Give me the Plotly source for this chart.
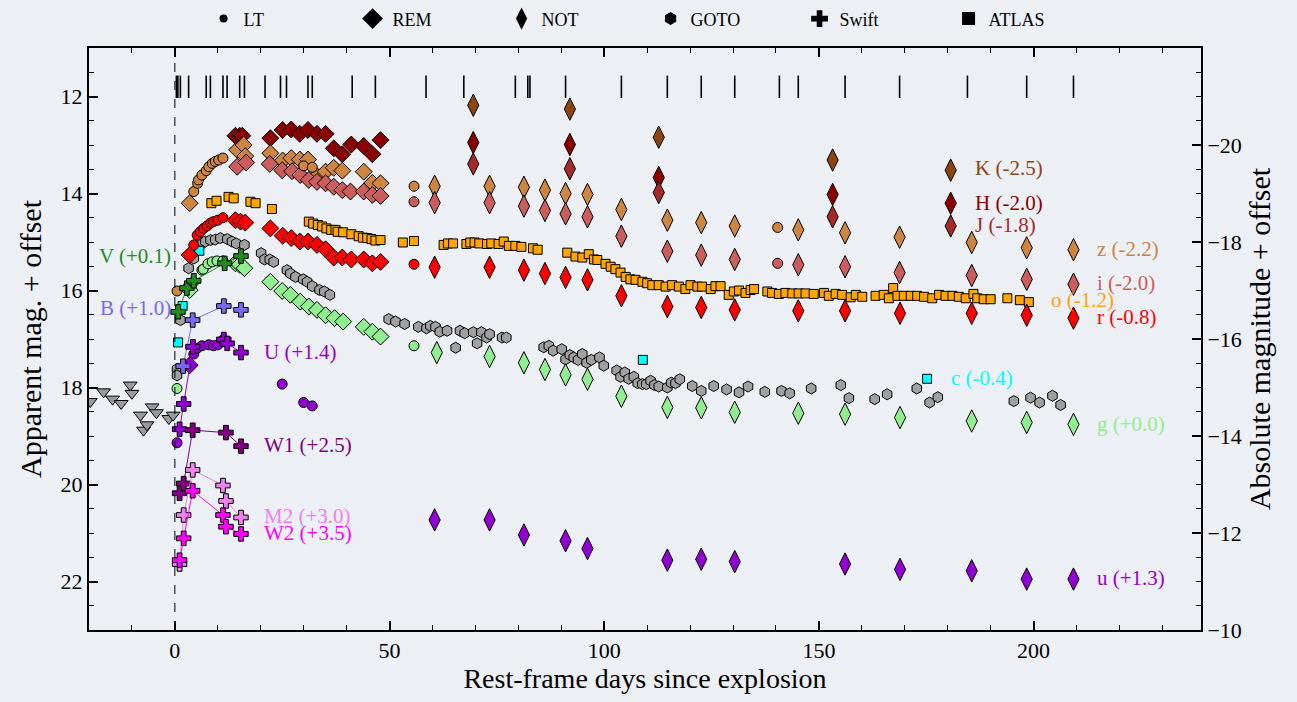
import plotly.graph_objects as go

# ---------------- data ----------------
spec_days = [0.35, 0.7, 1.28, 3.2, 7.3, 8.27, 11.2, 12.16, 15.1, 16.2, 21.0, 24.6, 26.0, 31.0, 32.0,
             41.3, 46.7, 58.5, 67.3, 79.3, 82.2, 82.7, 91.0, 104.0, 114.7, 122.6, 130.4, 140.8,
             145.2, 156.1, 168.8, 184.6, 198.4, 209.3]
spec_level = 11.8

# LT (circles)
lt_z_d = [0.5, 4.4, 5.3, 5.5, 6.3, 7.3, 7.9, 8.7, 9.4, 10.2, 11.2, 30.0, 32.0, 55.7, 140.4]
lt_z_m = [16.01, 13.96, 13.79, 13.72, 13.62, 13.53, 13.45, 13.38, 13.34, 13.31, 13.27, 13.43, 13.46, 13.85, 14.70]
lt_i_d = [55.7, 140.4]
lt_i_m = [14.17, 15.44]
lt_r_d = [4.4, 5.2, 5.9, 6.7, 7.5, 8.3, 9.0, 10.0, 11.2, 55.7]
lt_r_m = [15.06, 14.86, 14.79, 14.72, 14.67, 14.61, 14.58, 14.55, 14.50, 15.46]
lt_g_d = [0.5, 4.4, 6.3, 6.6, 7.7, 8.7, 9.8, 11.2, 55.7]
lt_g_m = [18.02, 15.82, 15.58, 15.56, 15.45, 15.41, 15.39, 15.39, 17.14]
lt_u_d = [0.5, 4.4, 5.2, 6.3, 7.9, 9.0, 10.0, 11.2, 25.0, 30.0, 32.0]
lt_u_m = [19.14, 17.31, 17.19, 17.14, 17.12, 17.14, 17.12, 17.02, 17.93, 18.31, 18.38]

# REM (diamonds)
rem_H_d = [14.1, 15.1, 15.7, 22.25, 25.1, 27.1, 29.1, 31.0, 33.1, 35.1, 37.0, 39.0, 41.1, 44.0, 46.0, 47.9]
rem_H_m = [12.81, 12.81, 12.81, 12.86, 12.69, 12.68, 12.77, 12.69, 12.77, 12.77, 13.07, 13.19, 12.99, 13.02, 13.19, 12.90]
rem_z_d = [3.45, 14.5, 16.0, 16.4, 22.25, 25.1, 27.1, 29.1, 31.0, 33.1, 35.1, 37.0, 39.0, 44.0, 46.0, 47.9]
rem_z_m = [14.20, 13.10, 13.00, 13.23, 13.17, 13.32, 13.27, 13.30, 13.30, 13.64, 13.55, 13.47, 13.53, 13.55, 13.78, 13.79]
rem_i_d = [14.5, 16.6, 22.1, 25.0, 27.3, 29.2, 31.2, 33.1, 35.1, 37.0, 39.0, 40.9, 44.0, 46.0, 47.9]
rem_i_m = [13.45, 13.36, 13.39, 13.52, 13.54, 13.62, 13.72, 13.76, 13.79, 13.86, 13.93, 13.96, 13.96, 14.03, 14.05]
rem_r_d = [3.45, 14.1, 15.3, 16.4, 22.25, 25.1, 27.1, 29.1, 31.0, 33.1, 35.1, 37.0, 39.0, 41.1, 44.0, 46.0, 47.9]
rem_r_m = [15.27, 14.55, 14.58, 14.60, 14.72, 14.87, 14.92, 14.99, 14.99, 15.06, 15.15, 15.32, 15.32, 15.36, 15.36, 15.44, 15.41]
rem_g_d = [3.45, 14.1, 15.1, 16.2, 22.25, 25.0, 26.9, 29.2, 31.2, 33.1, 35.1, 37.2, 39.2, 44.0, 46.0, 47.9]
rem_g_m = [15.99, 15.44, 15.47, 15.54, 15.82, 16.01, 16.09, 16.23, 16.33, 16.40, 16.51, 16.57, 16.64, 16.75, 16.85, 16.95]
rem_u_d = [3.45]
rem_u_m = [17.54]

# NOT (thin diamonds)
not_K_d = [69.5, 92.0, 112.7, 153.2, 180.7]
not_K_m = [12.18, 12.26, 12.84, 13.31, 13.52]
not_H_d = [69.5, 92.0, 112.7, 153.2, 180.7]
not_H_m = [12.95, 12.99, 13.67, 14.02, 14.20]
not_J_d = [69.5, 92.0, 112.7, 153.2, 180.7]
not_J_m = [13.39, 13.49, 13.98, 14.48, 14.67]
not_z_d = [60.5, 73.3, 81.3, 86.2, 91.0, 96.1, 104.0, 114.7, 122.6, 130.4, 145.2, 156.1, 168.8, 185.6, 198.4, 209.3]
not_z_m = [13.85, 13.85, 13.87, 13.93, 14.00, 14.02, 14.33, 14.55, 14.60, 14.67, 14.75, 14.81, 14.90, 15.01, 15.12, 15.16]
not_i_d = [60.5, 73.3, 81.3, 86.2, 91.0, 96.1, 104.0, 114.7, 122.6, 130.4, 145.2, 156.1, 168.8, 185.6, 198.4, 209.3]
not_i_m = [14.19, 14.19, 14.26, 14.35, 14.42, 14.48, 14.88, 15.19, 15.27, 15.36, 15.47, 15.51, 15.63, 15.69, 15.77, 15.87]
not_r_d = [60.5, 73.3, 81.3, 86.2, 91.0, 96.1, 104.0, 114.7, 122.6, 130.4, 145.2, 156.1, 168.9, 185.6, 198.4, 209.3]
not_r_m = [15.52, 15.52, 15.58, 15.65, 15.73, 15.78, 16.11, 16.33, 16.35, 16.40, 16.42, 16.42, 16.47, 16.47, 16.51, 16.57]
not_g_d = [61.0, 73.3, 81.3, 86.2, 91.0, 96.1, 104.0, 114.7, 122.6, 130.4, 145.2, 156.1, 168.9, 185.6, 198.4, 209.3]
not_g_m = [17.28, 17.36, 17.49, 17.63, 17.74, 17.83, 18.18, 18.41, 18.42, 18.51, 18.53, 18.55, 18.62, 18.69, 18.72, 18.76]
not_u_d = [60.5, 73.3, 81.3, 91.0, 96.1, 114.7, 122.6, 130.4, 156.1, 168.9, 185.6, 198.4, 209.3]
not_u_m = [20.73, 20.73, 21.04, 21.16, 21.32, 21.56, 21.54, 21.59, 21.64, 21.75, 21.78, 21.95, 21.95]

# GOTO (hexagons)
goto_d = [0.5, 0.5, 1.3, 3.2, 3.2, 4.4, 5.9, 7.1, 8.3, 9.4, 10.6, 12.2, 13.3, 14.3, 16.2,
          20.1, 20.9, 22.1, 23.0, 26.1, 26.9, 28.1, 29.9, 30.8, 32.0, 33.7, 34.8, 36.1,
          49.8, 51.4, 53.5, 56.7, 58.6, 59.5, 60.7, 61.7, 63.4, 65.4, 66.4, 67.5, 69.5, 70.4,
          71.4, 72.6, 73.3, 76.2, 77.2, 85.9, 87.1, 88.1, 90.1, 91.0, 92.0, 92.9, 93.9, 94.9,
          95.9, 97.0, 98.9, 99.9, 102.9, 103.8, 104.8, 105.7, 106.9, 107.8, 108.9, 109.8,
          110.8, 111.7, 112.7, 114.7, 115.6, 116.6, 117.6, 120.5, 122.6, 125.5, 128.5, 131.4,
          133.5, 137.4, 141.3, 143.2, 148.2, 155.1, 157.0, 163.0, 165.9, 172.8, 175.8, 177.7,
          195.4, 199.3, 201.4, 204.4, 206.3]
goto_m = [17.62, 17.75, 16.61, 15.54, 15.92, 15.34, 15.06, 14.99, 14.96, 14.95, 14.92, 14.94, 14.99, 15.03, 15.06,
          15.23, 15.36, 15.36, 15.41, 15.58, 15.65, 15.72, 15.77, 15.82, 15.91, 15.99, 16.02, 16.09,
          16.59, 16.64, 16.69, 16.75, 16.78, 16.73, 16.75, 16.85, 16.83, 17.18, 16.83, 16.88, 16.86, 17.09,
          16.86, 16.97, 16.90, 16.97, 16.97, 17.17, 17.14, 17.24, 17.21, 17.42, 17.33, 17.38, 17.43, 17.31,
          17.49, 17.43, 17.38, 17.55, 17.65, 17.78, 17.69, 17.82, 17.78, 17.91, 17.93, 17.93,
          17.86, 17.95, 17.98, 18.00, 17.90, 17.91, 17.83, 17.97, 18.07, 17.97, 18.04, 18.10,
          17.98, 18.09, 18.07, 18.12, 18.02, 17.95, 18.22, 18.24, 18.14, 18.02, 18.31, 18.20,
          18.28, 18.21, 18.31, 18.17, 18.36]

# Swift (crosses, joined)
sw_V_d = [0.75, 2.8, 4.4, 11.6, 15.4]
sw_V_m = [16.44, 15.95, 15.80, 15.44, 15.29]
sw_B_d = [1.9, 4.15, 11.4, 15.4]
sw_B_m = [17.56, 16.61, 16.32, 16.40]
sw_U_d = [1.1, 2.05, 4.2, 11.4, 12.2, 15.4]
sw_U_m = [18.86, 18.34, 17.16, 17.01, 17.09, 17.28]
sw_W1_d = [1.1, 2.05, 4.15, 11.9, 15.4]
sw_W1_m = [20.18, 19.98, 18.88, 18.93, 19.21]
sw_M2_d = [1.1, 2.05, 4.15, 11.2, 11.9, 15.4]
sw_M2_m = [21.64, 20.63, 19.70, 20.02, 20.34, 20.68]
sw_W2_d = [1.1, 2.05, 4.15, 11.2, 11.9, 15.4]
sw_W2_m = [21.56, 21.11, 20.13, 20.63, 20.87, 21.02]

# ATLAS (squares)
atlas_o_d = [8.5, 9.7, 12.5, 13.7, 17.6, 18.8, 22.6,
             31.2, 32.2, 33.3, 34.3, 35.3, 36.4, 37.4, 37.9, 39.2, 41.1, 42.8, 43.8, 44.8, 45.8, 46.7, 47.9,
             53.1, 55.7, 62.6, 63.6, 64.8, 67.9, 68.8, 69.8, 70.9, 72.7, 73.7, 75.4, 76.6, 77.8, 79.3, 80.7,
             83.4, 84.5, 91.4, 93.3, 94.9, 96.4, 97.6, 98.4, 100.3, 101.5, 102.6, 103.8, 105.0, 106.1,
             107.3, 108.9, 110.0, 111.2, 112.7, 114.3, 115.8, 117.4, 118.9, 120.1, 121.7, 122.8, 124.8,
             125.9, 127.1, 129.0, 130.2, 131.4, 132.9, 134.1, 134.9, 138.0, 139.1, 140.7, 142.2, 143.8,
             145.3, 146.9, 148.8, 151.2, 152.3, 153.9, 155.4, 157.4, 158.6, 160.1, 163.2, 165.1, 166.3,
             167.3, 168.3, 169.8, 171.4, 172.9, 174.5, 176.4, 178.0, 179.5, 181.1, 182.6, 184.2, 186.0,
             186.9, 188.4, 190.0, 193.9, 196.8, 198.9]
atlas_o_m = [14.20, 14.15, 14.07, 14.10, 14.17, 14.20, 14.32,
             14.58, 14.62, 14.65, 14.68, 14.72, 14.75, 14.75, 14.79, 14.80, 14.84, 14.88, 14.91, 14.92, 14.94, 14.97, 14.96,
             15.01, 14.98, 15.06, 15.03, 15.03, 15.04, 15.01, 15.01, 15.03, 15.04, 15.03, 15.04, 14.99, 15.08, 15.08, 15.10,
             15.13, 15.16, 15.22, 15.30, 15.32, 15.25, 15.36, 15.37, 15.45, 15.51, 15.56, 15.63, 15.72, 15.77,
             15.78, 15.82, 15.85, 15.89, 15.89, 15.92, 15.89, 15.92, 15.97, 15.89, 15.92, 15.92, 15.97,
             15.91, 15.91, 16.09, 16.02, 16.00, 16.05, 15.99, 15.97, 16.02, 16.05, 16.07, 16.05, 16.06,
             16.06, 16.06, 16.07, 16.05, 16.11, 16.07, 16.09, 16.14, 16.09, 16.13, 16.11, 16.09, 16.16,
             15.95, 16.11, 16.11, 16.11, 16.11, 16.13, 16.16, 16.09, 16.11, 16.11, 16.13, 16.16, 16.07,
             16.16, 16.18, 16.18, 16.16, 16.20, 16.24]
atlas_c_d = [0.75, 1.8, 5.7, 109.0, 175.2]
atlas_c_m = [17.07, 16.32, 15.18, 17.43, 17.82]

# upper limits (grey triangles)
lim_d = [-19.7, -16.6, -14.5, -12.5, -10.4, -10.0, -8.0, -7.3, -6.5, -5.3, -4.3, -1.4, -0.4]
lim_m = [18.29, 18.09, 18.24, 18.33, 17.95, 18.12, 18.57, 18.88, 18.77, 18.40, 18.52, 18.64, 18.57]

# band labels: text, day, mag
label_text = ["V (+0.1)", "B (+1.0)", "U (+1.4)", "W1 (+2.5)", "M2 (+3.0)", "W2 (+3.5)",
              "K (-2.5)", "H (-2.0)", "J (-1.8)", "z (-2.2)", "i (-2.0)", "o (-1.2)",
              "r (-0.8)", "c (-0.4)", "g (+0.0)", "u (+1.3)"]
label_day = [-18.1, -17.8, 20.4, 20.4, 20.4, 20.4, 185.8, 185.8, 185.8, 214.2, 214.2, 203.5,
             214.2, 180.2, 214.2, 214.2]
label_mag = [15.29, 16.36, 17.27, 19.19, 20.65, 21.0, 13.47, 14.2, 14.65, 15.14, 15.85, 16.2,
             16.55, 17.80, 18.75, 21.93]

C = dict(K="#8b4513", H="#8b0000", J="#a52a2a", z="#cd853f", i="#cd5c5c", o="#ffa500",
         r="#ff0000", c="#00ffff", g="#90ee90", u="#9400d3", V="#228b22", B="#7b68ee",
         U="#9400d3", W1="#800080", M2="#ee82ee", W2="#ff00ff", L="#a0a0a0")
label_color = [C["V"], C["B"], C["U"], C["W1"], C["M2"], C["W2"], C["K"], C["H"], C["J"],
               C["z"], C["i"], C["o"], C["r"], C["c"], C["g"], C["u"]]

DIST_MOD = 33.0
FONT = "Liberation Serif, Times New Roman, serif"
BG = "#eceff4"

fig = go.Figure()


def pts(d, m, color, symbol, size, lines=False, lw=1.0):
    fig.add_trace(go.Scatter(
        x=d, y=m, mode="lines+markers" if lines else "markers",
        line=dict(color=color, width=1) if lines else None,
        marker=dict(symbol=symbol, size=size, color=color, line=dict(color="black", width=lw)),
        showlegend=False, hoverinfo="skip"))


# spectral epochs
fig.add_trace(go.Scatter(x=spec_days, y=[spec_level] * len(spec_days), mode="markers",
                         marker=dict(symbol="line-ns", size=16, line=dict(color="black", width=1.6)),
                         showlegend=False, hoverinfo="skip"))

pts(lim_d, lim_m, "#9a9a9a", "triangle-down", 12)
pts(goto_d, goto_m, C["L"], "hexagon", 11)
pts(atlas_o_d, atlas_o_m, C["o"], "square", 9)
pts(atlas_c_d, atlas_c_m, C["c"], "square", 9)

# REM
for d, m, c in [(rem_H_d, rem_H_m, C["H"]), (rem_z_d, rem_z_m, C["z"]), (rem_i_d, rem_i_m, C["i"]),
                (rem_r_d, rem_r_m, C["r"]), (rem_g_d, rem_g_m, C["g"]), (rem_u_d, rem_u_m, C["u"])]:
    pts(d, m, c, "diamond", 13)

# NOT
for d, m, c in [(not_K_d, not_K_m, C["K"]), (not_H_d, not_H_m, C["H"]), (not_J_d, not_J_m, C["J"]),
                (not_z_d, not_z_m, C["z"]), (not_i_d, not_i_m, C["i"]), (not_r_d, not_r_m, C["r"]),
                (not_g_d, not_g_m, C["g"]), (not_u_d, not_u_m, C["u"])]:
    pts(d, m, c, "diamond-tall", 16)

# LT
for d, m, c in [(lt_z_d, lt_z_m, C["z"]), (lt_i_d, lt_i_m, C["i"]), (lt_r_d, lt_r_m, C["r"]),
                (lt_g_d, lt_g_m, C["g"]), (lt_u_d, lt_u_m, C["u"])]:
    pts(d, m, c, "circle", 10)

# Swift
for d, m, c in [(sw_V_d, sw_V_m, C["V"]), (sw_B_d, sw_B_m, C["B"]), (sw_U_d, sw_U_m, C["U"]),
                (sw_W1_d, sw_W1_m, C["W1"]), (sw_M2_d, sw_M2_m, C["M2"]), (sw_W2_d, sw_W2_m, C["W2"])]:
    pts(d, m, c, "cross", 12, lines=True)

# invisible trace carrying the absolute-magnitude axis
fig.add_trace(go.Scatter(x=[0], y=[-15], yaxis="y2", mode="markers", marker=dict(opacity=0),
                         showlegend=False, hoverinfo="skip"))

# legend entries (black symbols)
for name, sym, sz in [("LT", "circle", 8), ("REM", "diamond", 18), ("NOT", "diamond-tall", 18),
                      ("GOTO", "hexagon", 13), ("Swift", "cross", 14), ("ATLAS", "square", 13)]:
    fig.add_trace(go.Scatter(x=[None], y=[None], mode="markers", name=name,
                             marker=dict(symbol=sym, size=sz, color="black")))

for t, c, d, m in zip(label_text, label_color, label_day, label_mag):
    fig.add_annotation(x=d, y=m, xref="x", yref="y", text=t, showarrow=False,
                       xanchor="left", yanchor="middle", font=dict(family=FONT, size=21, color=c))

fig.add_shape(type="line", xref="x", yref="paper", x0=0, x1=0, y0=0, y1=1,
              line=dict(color="black", width=1, dash="dash"))

axis_common = dict(showgrid=False, zeroline=False, showline=True, linecolor="black", linewidth=2,
                   ticks="inside", tickcolor="black", tickwidth=1.5, ticklen=9,
                   tickfont=dict(family=FONT, size=22, color="black"))

fig.update_layout(
    width=1297, height=702,
    paper_bgcolor=BG, plot_bgcolor=BG,
    margin=dict(l=89, r=96, t=48, b=72, autoexpand=False),
    font=dict(family=FONT, color="black"),
    xaxis=dict(range=[-20, 239], tickvals=[0, 50, 100, 150, 200], mirror="ticks",
               title=dict(text="Rest-frame days since explosion", font=dict(family=FONT, size=28), standoff=5),
               minor=dict(dtick=10, ticks="inside", ticklen=5, tickcolor="black", tickwidth=1.2),
               **axis_common),
    yaxis=dict(range=[23, 11], tickvals=[12, 14, 16, 18, 20, 22], mirror=True,
               title=dict(text="Apparent mag. + offset", font=dict(family=FONT, size=30), standoff=10),
               minor=dict(dtick=0.5, ticks="inside", ticklen=5, tickcolor="black", tickwidth=1.2),
               **axis_common),
    yaxis2=dict(range=[23 - DIST_MOD, 11 - DIST_MOD], overlaying="y", side="right",
                tickvals=[-20, -18, -16, -14, -12, -10],
                title=dict(text="Absolute magnitude + offset", font=dict(family=FONT, size=30), standoff=8),
                minor=dict(dtick=0.5, ticks="inside", ticklen=5, tickcolor="black", tickwidth=1.2),
                **axis_common),
    legend=dict(orientation="h", x=0.505, xanchor="center", y=1.05, yanchor="middle",
                font=dict(family=FONT, size=18), bgcolor="rgba(0,0,0,0)",
                entrywidth=104, entrywidthmode="pixels", itemsizing="trace"),
)

fig.write_html("out.html", config={"displayModeBar": False},
               post_script="document.body.style.margin='0px';")
